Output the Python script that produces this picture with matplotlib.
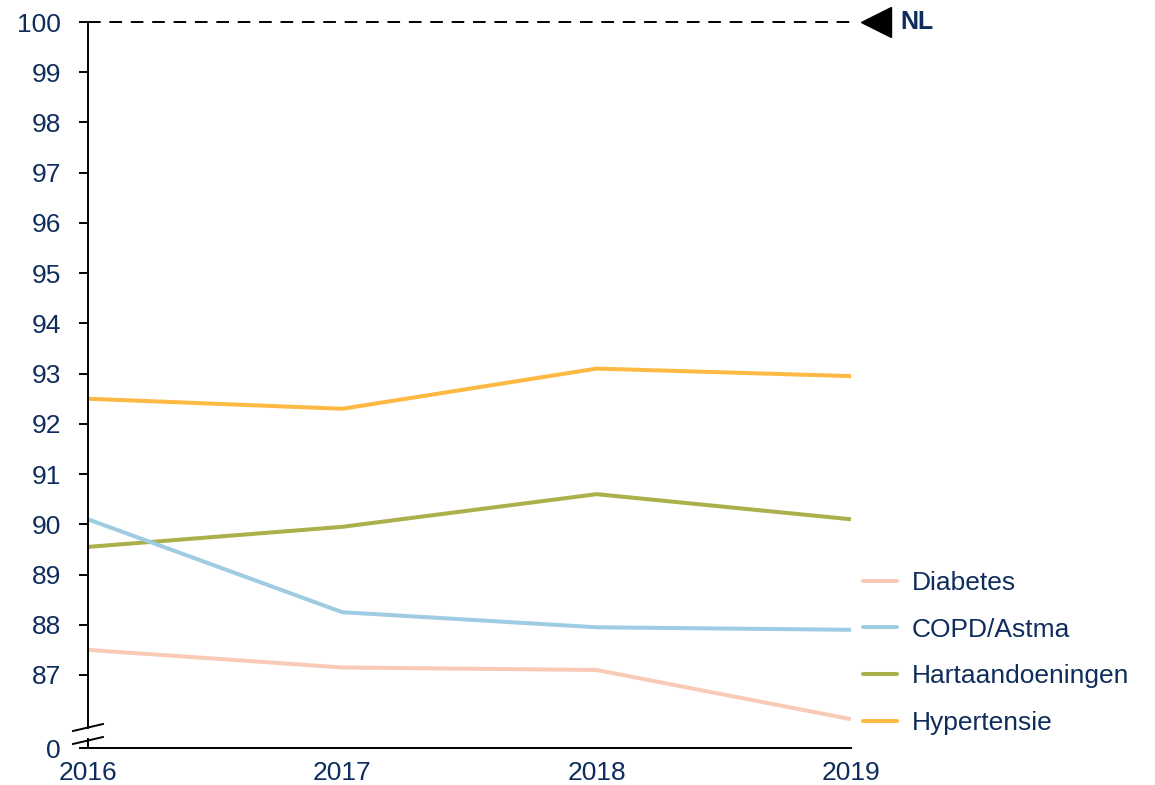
import matplotlib
matplotlib.use("Agg")
import matplotlib.pyplot as plt
import matplotlib.transforms as mtransforms
from matplotlib.lines import Line2D

plt.rcParams['font.family'] = ['Liberation Sans', 'DejaVu Sans']

# ---- data ----
years = [2016, 2017, 2018, 2019]
series_names = ["Diabetes", "COPD/Astma", "Hartaandoeningen", "Hypertensie"]
diabetes = [87.5, 87.15, 87.1, 86.12]
copd = [90.1, 88.25, 87.95, 87.9]
hart = [89.55, 89.95, 90.6, 90.1]
hyper = [92.5, 92.3, 93.1, 92.95]
nl_value = 100
y_ticks = list(range(87, 101))
y_tick_labels = [str(v) for v in y_ticks]
axis_floor_label = "0"
nl_label = "NL"

colors = {
    "Diabetes": "#F9CBB6",
    "COPD/Astma": "#9FCBE3",
    "Hartaandoeningen": "#ABB04B",
    "Hypertensie": "#FDB944",
}
text_color = "#0F2D5C"
FS = 19
LW = 2.9

W, H = 1155, 785
fig = plt.figure(figsize=(W / 100, H / 100), dpi=100)

def fx(x):
    return x / W

def fy(y):
    return 1 - y / H

left_px, right_px, top_px, bot_px = 88, 851, 22, 748
ax = fig.add_axes([fx(left_px), fy(bot_px), fx(right_px) - fx(left_px), fy(top_px) - fy(bot_px)])

# y-floor value corresponding to the "0" label in the broken axis
y_floor = 87 - (bot_px - 675) / ((675 - 22) / 13)
ax.set_ylim(y_floor, 100)
ax.set_xlim(years[0], years[-1])

values = {"Diabetes": diabetes, "COPD/Astma": copd,
          "Hartaandoeningen": hart, "Hypertensie": hyper}
for name in ["Hypertensie", "Hartaandoeningen", "COPD/Astma", "Diabetes"]:
    ax.plot(years, values[name], color=colors[name], lw=LW,
            solid_capstyle='butt', solid_joinstyle='round', label=name, zorder=3)

# NL reference line
ax.plot([years[0], years[-1]], [nl_value, nl_value], color='black', lw=1.4,
        dashes=(6.5, 4.5), zorder=2, clip_on=False)
tri_tr = mtransforms.offset_copy(ax.transData, fig=fig, x=25, y=0, units='dots')
ax.plot([years[-1]], [nl_value], marker='<', ms=21, color='black',
        transform=tri_tr, clip_on=False, zorder=4)
txt_tr = mtransforms.offset_copy(ax.transData, fig=fig, x=49, y=0, units='dots')
ax.text(years[-1], nl_value, nl_label, transform=txt_tr, color=text_color,
        fontsize=18, fontweight='bold', va='center', ha='left')

# ticks
ax.set_yticks([y_floor] + y_ticks)
ax.set_yticklabels([axis_floor_label] + y_tick_labels)
ax.set_xticks(years)
ax.set_xticklabels([str(y) for y in years])
ax.tick_params(axis='y', direction='out', length=6.5, width=1.4, pad=13,
               labelsize=FS, labelcolor=text_color, color='black')
ax.tick_params(axis='x', length=0, pad=9, labelsize=FS, labelcolor=text_color)

for s in ['top', 'right', 'left']:
    ax.spines[s].set_visible(False)
ax.spines['bottom'].set_linewidth(1.4)

# left axis with break
def fline(x0, y0, x1, y1, lw=1.4):
    fig.add_artist(Line2D([fx(x0), fx(x1)], [fy(y0), fy(y1)], color='black',
                          lw=lw, transform=fig.transFigure))

fline(left_px, top_px, left_px, 728)
fline(left_px, 739, left_px, bot_px)
fline(73, 731, 103, 724)
fline(73, 744, 103, 737)

# legend
handles = [Line2D([0], [0], color=colors[n], lw=LW, solid_capstyle='round') for n in series_names]
leg = fig.legend(handles, series_names, loc='upper left',
                 bbox_to_anchor=(fx(863), fy(571)), bbox_transform=fig.transFigure,
                 frameon=False, fontsize=FS, handlelength=1.3, handletextpad=0.55,
                 labelspacing=0.86, borderpad=0, borderaxespad=0)
for t in leg.get_texts():
    t.set_color(text_color)

fig.savefig("out.png", dpi=100)
